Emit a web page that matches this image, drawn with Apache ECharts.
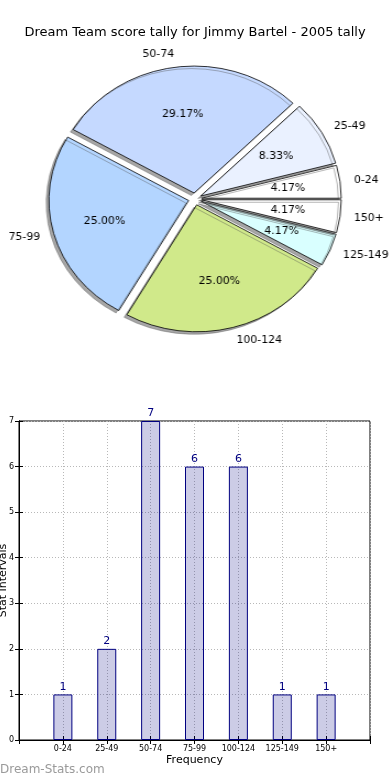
<!DOCTYPE html>
<html><head><meta charset="utf-8">
<script src="https://cdn.jsdelivr.net/npm/echarts@6/dist/echarts.min.js"></script>
<style>
html,body{margin:0;padding:0;background:#fff}
#wrap{position:relative;width:390px;height:780px}
#c{position:absolute;left:0;top:0;width:390px;height:780px}
#p{position:absolute;left:0;top:0;width:390px;height:400px;transform-origin:195px 199px;transform:scaleX(1.1)}
</style>
</head><body><div id="wrap"><div id="c"></div><div id="p"></div></div>
<script>
const titleText = 'Dream Team score tally for Jimmy Bartel - 2005 tally';
const categories = ['0-24','25-49','50-74','75-99','100-124','125-149','150+'];
const counts = [1,2,7,6,6,1,1];
const pieColors = ['#FFFFFF','#EAF1FF','#C5D9FF','#B3D5FF','#D0E98A','#D9FFFF','#FFFFFF'];
const xAxisName = 'Frequency';
const yAxisName = 'Stat Intervals';
const watermark = 'Dream-Stats.com';

const FF = 'DejaVu Sans';
const FFP = "'DejaVu Sans Condensed', 'DejaVu Sans'";
const R = 127;
const total = counts.reduce((a,b)=>a+b,0);
const pieData = categories.map((c,i)=>({name:c, value:counts[i], selected:true, itemStyle:{color:pieColors[i]}}));
const pctData = categories.map((c,i)=>({name:c, value:counts[i], selected:true}));
const barData = categories.map((c,i)=>[i+1, counts[i]]);

const dotted = {color:'#b8b8b8', type:[1,2], width:1};
const chart = echarts.init(document.getElementById('c'), null, {renderer:'canvas'});
chart.setOption({
  animation:false,
  backgroundColor:'#fff',
  title:{text:titleText, left:'center', top:21, textStyle:{fontFamily:FF, fontSize:13, fontWeight:'normal', color:'#000'}},
  graphic:[{type:'text', left:0, top:764, style:{text:watermark, fontFamily:FF, fontSize:12, fill:'#9a9a9a'}}],
  grid:{left:19, right:20, top:421, bottom:40, outerBoundsMode:'none', containLabel:false, show:true, borderColor:'#000', borderWidth:1, backgroundColor:'transparent'},
  xAxis:[{
    type:'value', min:0, max:8, interval:1, position:'bottom',
    axisLine:{show:true, lineStyle:{color:'#000'}},
    axisTick:{show:true, inside:true, length:4, lineStyle:{color:'#000'}},
    axisLabel:{fontFamily:FF, fontSize:8, color:'#000', margin:5, formatter:v=>categories[v-1]||''},
    splitLine:{show:true, lineStyle:dotted},
    name:xAxisName, nameLocation:'middle', nameGap:15, nameMoveOverlap:false, nameTextStyle:{fontFamily:FF, fontSize:11, color:'#000'}
  },{
    type:'value', min:0, max:8, interval:1, position:'top',
    axisLine:{show:true, lineStyle:{color:'#000'}},
    axisTick:{show:true, inside:true, length:4, lineStyle:{color:'#000'}},
    axisLabel:{show:false}, splitLine:{show:false}
  }],
  yAxis:[{
    type:'value', min:0, max:7, interval:1, position:'left',
    axisLine:{show:true, lineStyle:{color:'#000'}},
    axisTick:{show:true, inside:true, length:4, lineStyle:{color:'#000'}},
    axisLabel:{fontFamily:FF, fontSize:8, color:'#000', margin:5},
    splitLine:{show:true, lineStyle:dotted},
    name:yAxisName, nameLocation:'middle', nameGap:10, nameRotate:90, nameMoveOverlap:false, nameTextStyle:{fontFamily:FF, fontSize:11, color:'#000'}
  },{
    type:'value', min:0, max:7, interval:1, position:'right',
    axisLine:{show:true, lineStyle:{color:'#000'}},
    axisTick:{show:true, inside:true, length:4, lineStyle:{color:'#000'}},
    axisLabel:{show:false}, splitLine:{show:false}
  }],
  series:[
    {
      type:'bar', xAxisIndex:0, yAxisIndex:0, data:barData, barWidth:19, silent:true,
      itemStyle:{color:'rgba(0,0,128,0.2)', borderColor:'#000080', borderWidth:1},
      label:{show:true, position:'top', distance:2, color:'#000080', fontFamily:FF, fontSize:11}
    }
  ]
});

const pie = echarts.init(document.getElementById('p'), null, {renderer:'canvas'});
pie.setOption({
  animation:false,
  backgroundColor:'transparent',
  series:[
    {
      type:'pie', center:[195,199], radius:[0,R], startAngle:0, clockwise:false,
      selectedMode:'multiple', selectedOffset:6, avoidLabelOverlap:false, silent:true,
      data:pieData,
      itemStyle:{borderColor:'#000', borderWidth:0.8, shadowColor:'rgba(77,77,77,0.5)', shadowOffsetX:-2.5, shadowOffsetY:2.5, shadowBlur:0},
      label:{show:true, position:'outside', formatter:'{b}', color:'#000', fontFamily:FFP, fontSize:11, distanceToLabelLine:0},
      labelLine:{show:false, length:12.7, length2:0},
      select:{itemStyle:{borderColor:'#000', borderWidth:0.8}},
      emphasis:{disabled:true}
    },
    {
      type:'pie', center:[195,199], radius:[R*0.2,R], startAngle:0, clockwise:false,
      selectedMode:'multiple', selectedOffset:6, avoidLabelOverlap:false, silent:true,
      data:pctData,
      itemStyle:{color:'rgba(0,0,0,0)', borderWidth:0},
      label:{show:true, position:'inside', color:'#000', fontFamily:FFP, fontSize:11,
        formatter:p=>(p.value/total*100).toFixed(2)+'%'},
      labelLine:{show:false},
      select:{itemStyle:{color:'rgba(0,0,0,0)', borderWidth:0}},
      emphasis:{disabled:true}
    }
  ]
});
</script></body></html>
